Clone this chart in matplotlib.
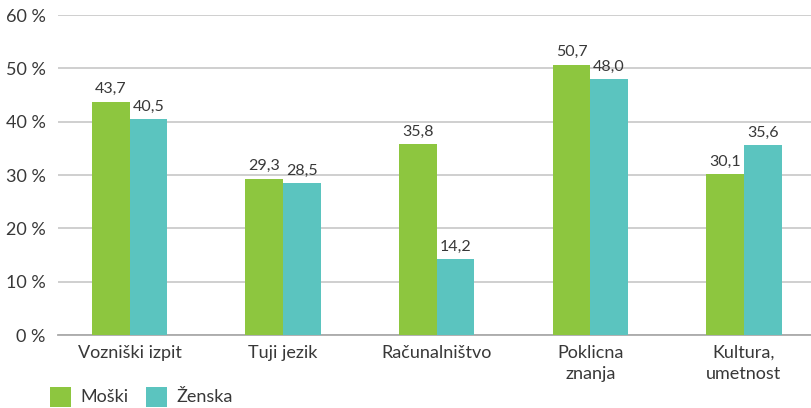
import matplotlib
matplotlib.use("Agg")
import matplotlib.pyplot as plt
from matplotlib.patches import Rectangle
import numpy as np

categories = ["Vozniški izpit", "Tuji jezik", "Računalništvo", "Poklicna\nznanja", "Kultura,\numetnost"]
moski = [43.7, 29.3, 35.8, 50.7, 30.1]
zenska = [40.5, 28.5, 14.2, 48.0, 35.6]
series_names = ["Moški", "Ženska"]
yticks = [0, 10, 20, 30, 40, 50, 60]

plt.rcParams['font.family'] = ['Lato', 'DejaVu Sans']
green = "#8DC63F"
teal = "#5BC4BF"
txt = "#383838"

W, H = 812, 408
fig = plt.figure(figsize=(W/100, H/100), dpi=100)
ax = fig.add_axes([58/W, 73/H, 754/W, 320/H])

x = np.arange(len(categories))
w = 0.245
b1 = ax.bar(x - w/2, moski, w, color=green, zorder=3)
b2 = ax.bar(x + w/2, zenska, w, color=teal, zorder=3)

def fmt(v):
    return f"{v:.1f}".replace(".", ",")

for bars, vals in ((b1, moski), (b2, zenska)):
    for rect, v in zip(bars, vals):
        ax.annotate(fmt(v), (rect.get_x() + rect.get_width()/2, v), xytext=(0, 4),
                    textcoords="offset points", ha="center", va="bottom",
                    fontsize=11.5, color=txt)

ax.set_ylim(0, 60)
ax.set_xlim(-0.4655, 4.443)
ax.set_yticks(yticks)
ax.set_yticklabels([f"{t} %" for t in yticks], fontsize=13, color=txt)
ax.set_xticks(x)
ax.set_xticklabels(categories, fontsize=13, color=txt, linespacing=1.4)
ax.tick_params(axis="both", length=0)
ax.tick_params(axis="y", pad=9)
ax.tick_params(axis="x", pad=7)
ax.yaxis.grid(True, color="#cccccc", linewidth=1.3, zorder=0)
for s in ["top", "right", "left"]:
    ax.spines[s].set_visible(False)
ax.spines["bottom"].set_color("#aaaaaa")
ax.spines["bottom"].set_linewidth(1.3)

# legend
leg_items = [(50, green, 80), (146, teal, 176)]
for (sx, col, tx), name in zip(leg_items, series_names):
    fig.add_artist(Rectangle((sx/W, 1/H), 21/W, 20/H, transform=fig.transFigure,
                             color=col, linewidth=0))
    fig.text(tx/W, 11/H, name, fontsize=13, color=txt, va="center", ha="left")

fig.savefig("out.png", dpi=100)
